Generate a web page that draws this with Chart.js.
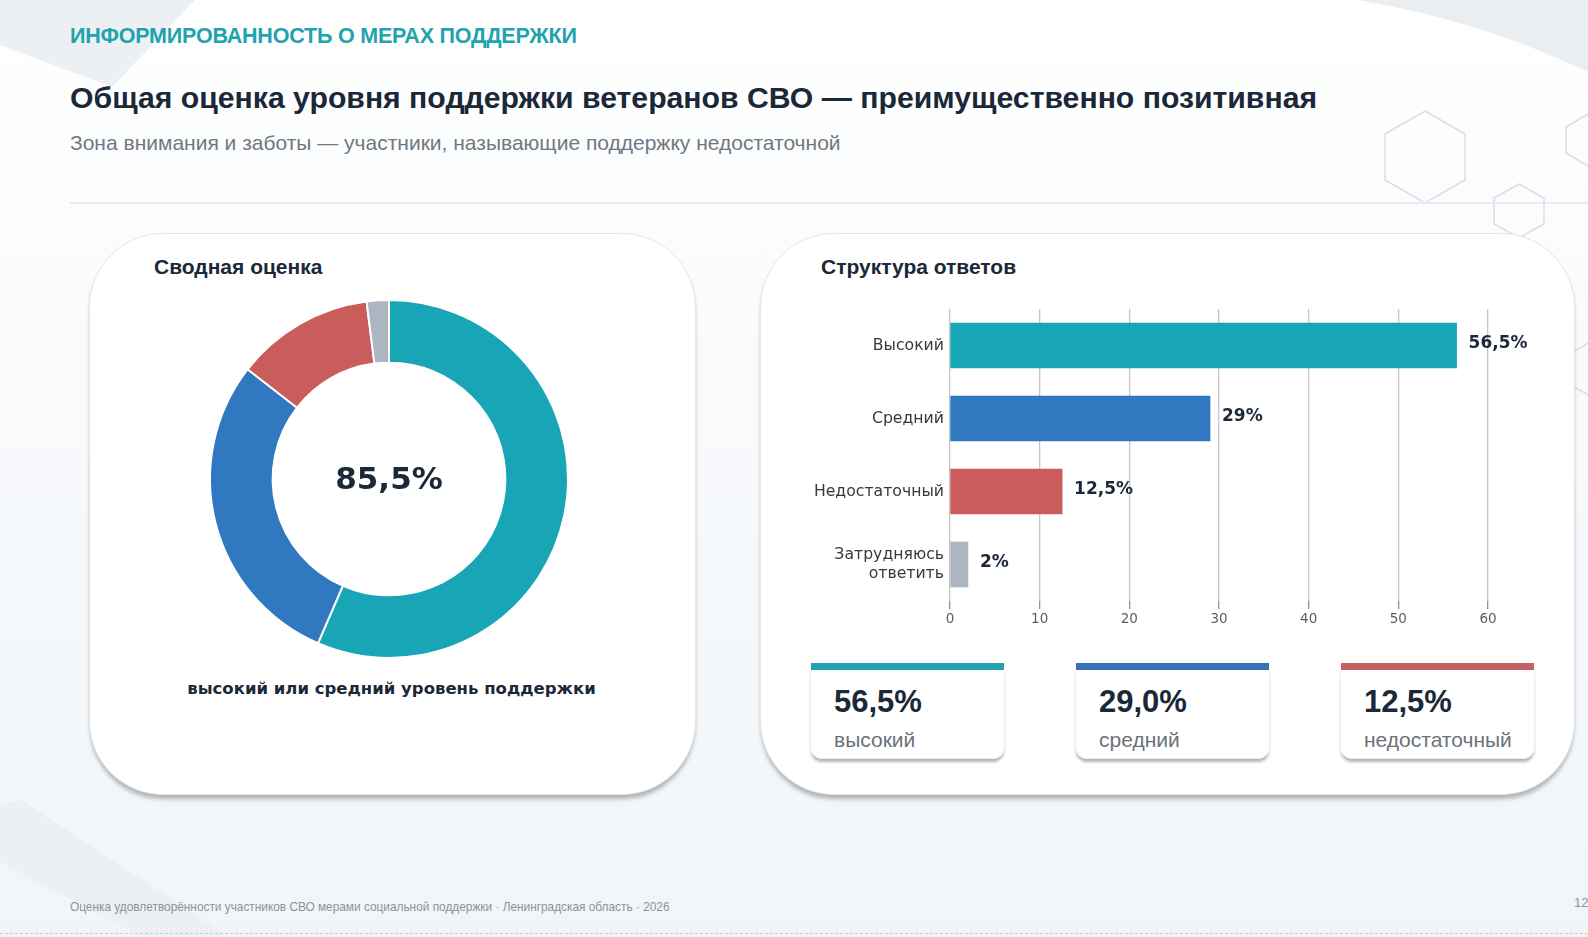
<!DOCTYPE html>
<html>
<head>
<meta charset="UTF-8" />
<title>Оценка уровня поддержки</title>
<script src="https://cdn.jsdelivr.net/npm/chart.js@4.4.1/dist/chart.umd.min.js"></script>
<style>
  html, body { margin: 0; padding: 0; }
  body {
    width: 1588px; height: 937px; position: relative; overflow: hidden;
    background: linear-gradient(180deg, #ffffff 0%, #f8fafc 40%, #f1f5f8 100%);
    font-family: "Liberation Sans", Arial, sans-serif;
  }
  .abs { position: absolute; }
  #bg { position: absolute; left: 0; top: 0; }
  .tag { left: 70px; top: 24px; font-size: 21.5px; font-weight: bold; color: #1fa3ad; letter-spacing: -0.2px; }
  .title { left: 70px; top: 81px; font-size: 30.2px; font-weight: bold; color: #1b2838; }
  .sub { left: 70px; top: 131px; font-size: 21px; color: #6f7882; }
  .rule { left: 70px; top: 202px; width: 1518px; height: 2px; background: #e8ecf0; }
  .card {
    background: #fff; border: 1px solid #e3e7eb; border-radius: 74px;
    box-shadow: 0 5px 4px -1px rgba(0,0,0,0.28);
  }
  .card h3 { position: absolute; margin: 0; font-size: 21px; font-weight: bold; color: #1b2838; }
  .center-val { font-family: "DejaVu Sans", sans-serif; font-weight: bold; font-size: 31px; color: #1b2838; width: 200px; text-align: center; }
  .caption { font-family: "DejaVu Sans", sans-serif; font-weight: bold; font-size: 16.5px; color: #1b2838; width: 605px; text-align: center; }
  .mini {
    background: #fff; border-radius: 0 0 12px 12px; width: 193px; height: 88px;
    box-shadow: 0 4px 3px -1px rgba(0,0,0,0.3); border: 1px solid #eceff2; border-top: none;
  }
  .mini .bar { position: absolute; left: 0; top: -7px; width: 193px; height: 7px; }
  .mini .v { position: absolute; left: 23px; top: 14px; font-size: 31px; font-weight: bold; color: #1b2838; }
  .mini .l { position: absolute; left: 23px; top: 58px; font-size: 21px; color: #6a727a; }
  .foot { left: 70px; top: 900px; font-size: 11.85px; color: #8a939c; }
  .page { left: 1574px; top: 895px; font-size: 13px; color: #8a939c; }
  .dash { left: 0; top: 933px; width: 1588px; border-top: 1px dashed #c8ced4; }
</style>
</head>
<body>
<svg id="bg" width="1588" height="937">
  <polygon points="0,0 195,0 112,87 0,45" fill="#e9ecef" opacity="0.8"/>
  <path d="M1357,0 L1588,0 L1588,72 Q1480,20 1357,0 Z" fill="#e9ecef" opacity="0.9"/>
  <polygon points="0,805 22,800 228,937 142,937 0,862" fill="#e8edf2" opacity="0.6"/>
  <g fill="none" stroke="#dadde1" stroke-width="1.5">
    <polygon points="1425,111 1465,134 1465,180 1425,203 1385,180 1385,134"/>
    <polygon points="1519,184 1544,198 1544,224 1519,238 1494,224 1494,198"/>
    <polygon points="1590,113 1614,127 1614,153 1590,167 1566,153 1566,127"/>
    <polygon points="1590,342 1614,356 1614,382 1590,396 1566,382 1566,356"/>
  </g>
</svg>

<div class="abs tag">ИНФОРМИРОВАННОСТЬ О МЕРАХ ПОДДЕРЖКИ</div>
<div class="abs title">Общая оценка уровня поддержки ветеранов СВО — преимущественно позитивная</div>
<div class="abs sub">Зона внимания и заботы — участники, называющие поддержку недостаточной</div>
<div class="abs rule"></div>

<div class="abs card" style="left:89px; top:233px; width:605px; height:560px;">
  <h3 style="left:64px; top:21px;">Сводная оценка</h3>
</div>
<div class="abs" style="left:201px; top:291px; width:376px; height:376px;">
  <canvas id="donut"></canvas>
</div>
<div class="abs center-val" style="left:289px; top:460px;" id="centerVal"></div>
<div class="abs caption" style="left:89px; top:679px;">высокий или средний уровень поддержки</div>

<div class="abs card" style="left:760px; top:233px; width:813px; height:560px;">
  <h3 style="left:60px; top:21px;">Структура ответов</h3>
</div>
<div class="abs" style="left:790px; top:304px; width:760px; height:327px;">
  <canvas id="bars"></canvas>
</div>

<div id="minis"></div>

<div class="abs foot">Оценка удовлетворённости участников СВО мерами социальной поддержки · Ленинградская область · 2026</div>
<div class="abs page">12</div>
<div class="abs dash"></div>

<script>
  var categories = [["Высокий"], ["Средний"], ["Недостаточный"], ["Затрудняюсь", "ответить"]];
  var shares = [56.5, 29, 12.5, 2];
  var valueLabels = ["56,5%", "29%", "12,5%", "2%"];
  var colors = ["#18a6b6", "#3078bf", "#ca5c5b", "#acb5c0"];
  var xTicks = [0, 10, 20, 30, 40, 50, 60];

  var miniValues = ["56,5%", "29,0%", "12,5%"];
  var miniLabels = ["высокий", "средний", "недостаточный"];
  var miniColors = ["#22a3ad", "#3a70b6", "#c46162"];
  var centerValue = "85,5%";

  document.getElementById("centerVal").textContent = centerValue;

  // three small summary cards under the bar chart
  var minis = document.getElementById("minis");
  var miniLeft = [810, 1075, 1340];
  for (var i = 0; i < miniValues.length; i++) {
    var d = document.createElement("div");
    d.className = "abs mini";
    d.style.left = miniLeft[i] + "px";
    d.style.top = "670px";
    d.innerHTML = '<div class="bar" style="background:' + miniColors[i] + '"></div>' +
      '<div class="v">' + miniValues[i] + '</div><div class="l">' + miniLabels[i] + '</div>';
    minis.appendChild(d);
  }

  new Chart(document.getElementById("donut"), {
    type: "doughnut",
    data: {
      labels: categories.map(function (c) { return c.join(" "); }),
      datasets: [{
        data: shares,
        backgroundColor: colors,
        borderColor: "#ffffff",
        borderWidth: 2
      }]
    },
    options: {
      responsive: true,
      maintainAspectRatio: false,
      animation: false,
      radius: 179,
      cutout: "65%",
      plugins: { legend: { display: false }, tooltip: { enabled: false } }
    }
  });

  // bold value labels at the end of each bar
  var barLabels = {
    id: "barLabels",
    afterDatasetsDraw: function (chart) {
      var ctx = chart.ctx;
      var meta = chart.getDatasetMeta(0);
      ctx.save();
      ctx.font = "bold 17px 'DejaVu Sans'";
      ctx.fillStyle = "#1b2838";
      ctx.textBaseline = "middle";
      meta.data.forEach(function (el, i) {
        ctx.fillText(valueLabels[i], el.x + 12, el.y - 2);
      });
      ctx.restore();
    }
  };

  new Chart(document.getElementById("bars"), {
    type: "bar",
    data: {
      labels: categories,
      datasets: [{
        data: shares,
        backgroundColor: colors,
        barThickness: 45
      }]
    },
    options: {
      indexAxis: "y",
      responsive: true,
      maintainAspectRatio: false,
      animation: false,
      layout: { padding: { top: 5, right: 62, left: 0, bottom: 0 } },
      plugins: { legend: { display: false }, tooltip: { enabled: false } },
      scales: {
        x: {
          min: 0, max: 60,
          afterBuildTicks: function (s) { s.ticks = xTicks.map(function (v) { return { value: v }; }); },
          afterFit: function (s) { s.height = 30; s.paddingLeft = 0; s.paddingRight = 0; },
          border: { display: false },
          grid: { color: "#c4c6c8", lineWidth: 1.3, tickLength: 8, tickColor: "#8e9296" },
          ticks: { color: "#5a5f64", font: { family: "DejaVu Sans", size: 13.5 }, padding: 2 }
        },
        y: {
          afterFit: function (s) { s.width = 160; s.paddingTop = 0; s.paddingBottom = 0; },
          border: { display: false },
          grid: { display: false, drawTicks: false },
          ticks: { color: "#333a40", font: { family: "DejaVu Sans", size: 15.7, lineHeight: 1.25 }, padding: 6 }
        }
      }
    },
    plugins: [barLabels]
  });
</script>
</body>
</html>
